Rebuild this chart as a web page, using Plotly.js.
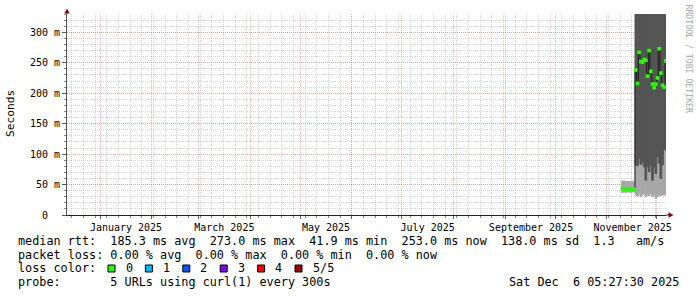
<!DOCTYPE html>
<html>
<head>
<meta charset="utf-8">
<script src="https://cdn.plot.ly/plotly-3.0.1.min.js"></script>
<style>
  html, body { margin: 0; padding: 0; background: #ffffff; }
  #chart { width: 697px; height: 297px; }
</style>
</head>
<body>
<div id="chart"></div>
<script>
// ---------------- data ----------------
const monthStarts = ['2025-01-01','2025-02-01','2025-03-01','2025-04-01','2025-05-01','2025-06-01',
                     '2025-07-01','2025-08-01','2025-09-01','2025-10-01','2025-11-01','2025-12-01'];
const monthLabels = ['January 2025','','March 2025','','May 2025','','July 2025','','September 2025','','November 2025',''];

const yTickVals = [0, 0.05, 0.10, 0.15, 0.20, 0.25, 0.30];
const yTickText = ['0\u00a0\u00a0', '50 m', '100 m', '150 m', '200 m', '250 m', '300 m'];

// one sample per day (bar centred at noon)
const days = ['2025-11-10','2025-11-11','2025-11-12','2025-11-13','2025-11-14','2025-11-15','2025-11-16','2025-11-17',
              '2025-11-18','2025-11-19','2025-11-20','2025-11-21','2025-11-22','2025-11-23','2025-11-24','2025-11-25',
              '2025-11-26','2025-11-27','2025-11-28','2025-11-29','2025-11-30','2025-12-01','2025-12-02','2025-12-03',
              '2025-12-04','2025-12-05','2025-12-06'];

// smoke: bottom of light band, light/dark boundary, top of dark band (seconds)
const smokeLo  = [0.037,0.038,0.037,0.038,0.038,0.037,0.038,0.038,
                  0.033,0.031,0.0355,0.030,0.033,0.0355,0.030,0.033,0.032,0.0355,0.030,0.033,0.027,0.030,0.033,0.032,0.033,0.033,0.033];
const smokeMid = [0.056,0.055,0.055,0.055,0.055,0.055,0.055,0.055,
                  0.082,0.081,0.093,0.083,0.087,0.079,0.057,0.079,0.071,0.082,0.057,0.079,0.068,0.096,0.085,0.060,0.082,0.107,0.107];
const smokeHi  = [null,null,null,null,null,null,null,null,
                  0.35,0.35,0.35,0.35,0.35,0.35,0.35,0.35,0.35,0.35,0.35,0.35,0.35,0.35,0.35,0.35,0.35,0.35,0.35];

// median rtt (seconds)
const median = [0.0435,0.043,0.043,0.0425,0.042,0.0419,0.042,0.0422,
                0.238,0.216,0.267,0.252,0.251,0.255,0.254,0.228,0.270,0.236,0.215,0.209,0.215,0.225,0.273,0.233,0.213,0.210,0.253];

const legendLines = [
  'median rtt:  185.3 ms avg  273.0 ms max  41.9 ms min  253.0 ms now  138.0 ms sd  1.3   am/s',
  'packet loss: 0.00 % avg  0.00 % max  0.00 % min  0.00 % now',
  'loss color:',
  'probe:       5 URLs using curl(1) every 300s'
];
const lossLabels = ['0','1','2','3','4','5/5'];
const lossColors = ['#26ff00','#00b8ff','#0059ff','#7e00ff','#ff0000','#a10000'];
const dateText = 'Sat Dec  6 05:27:30 2025';
const watermark = 'RRDTOOL / TOBI OETIKER';

// ---------------- layout helpers ----------------
const L = 67, R = 666, T = 14, B = 215;
const W = R - L, H = B - T;
const px = x => (x - L) / W;
const py = y => (B - y) / H;
const nb = s => s.replace(/ /g, '\u00a0');
const MONO = 'DejaVu Sans Mono';

const centers = days.map(d => d + ' 12:00');
const lightH = smokeMid.map((m, i) => m - smokeLo[i]);
const darkH  = smokeHi.map((h, i) => (h === null ? null : h - smokeMid[i]));

const traces = [
  { type: 'bar', x: centers, base: smokeLo, y: lightH, width: 86400000,
    marker: { color: '#a8a8a8', line: { width: 1, color: '#a8a8a8' } }, hoverinfo: 'skip' },
  { type: 'bar', x: centers, base: smokeMid, y: darkH, width: 86400000,
    marker: { color: '#555555', line: { width: 1, color: '#555555' } }, hoverinfo: 'skip' },
  { type: 'scatter', mode: 'lines+markers', x: centers, y: median,
    line: { shape: 'hvh', color: '#1e1e1e', width: 1 },
    marker: { symbol: 'square', size: 3.6, color: lossColors[0], line: { width: 0 } }, hoverinfo: 'skip' }
];

const gray = 'rgba(150,150,150,0.4)';
const red  = 'rgba(225,90,90,0.4)';
const axFont = { family: MONO, size: 10, color: '#000' };

const annotations = [];
legendLines.forEach((t, i) => {
  const yc = [241, 255, 268, 282][i];
  annotations.push({ xref: 'paper', yref: 'paper', x: px(16), y: py(yc), xanchor: 'left', yanchor: 'middle',
    text: nb(t), showarrow: false, font: { family: MONO, size: 11.8, color: '#000' } });
});
annotations.push({ xref: 'paper', yref: 'paper', x: px(681), y: py(282), xanchor: 'right', yanchor: 'middle',
  text: nb(dateText), showarrow: false, font: { family: MONO, size: 11.8, color: '#000' } });
annotations.push({ xref: 'paper', yref: 'paper', x: px(11), y: py(114), xanchor: 'center', yanchor: 'middle',
  text: 'Seconds', textangle: -90, showarrow: false, font: { family: MONO, size: 11.2, color: '#000' } });
annotations.push({ xref: 'paper', yref: 'paper', x: px(688.5), y: py(59), xanchor: 'center', yanchor: 'middle',
  text: nb(watermark), textangle: 90, showarrow: false, font: { family: MONO, size: 8.2, color: '#a8a8a8' } });

const shapes = [];
lossLabels.forEach((lab, i) => {
  const x0 = 108 + i * 37.4;
  shapes.push({ type: 'rect', xref: 'paper', yref: 'paper', x0: px(x0), x1: px(x0 + 7), y0: py(272), y1: py(265),
    fillcolor: lossColors[i], line: { color: '#000', width: 1 } });
  annotations.push({ xref: 'paper', yref: 'paper', x: px(x0 + 15.5), y: py(268), xanchor: 'left', yanchor: 'middle',
    text: lab, showarrow: false, font: { family: MONO, size: 11.8, color: '#000' } });
});
// axis arrows
const pth = pts => 'M' + pts.map(p => px(p[0]) + ',' + py(p[1])).join(' L') + ' Z';
shapes.push({ type: 'path', xref: 'paper', yref: 'paper', path: pth([[67, 8.5], [64.3, 13.5], [69.7, 13.5]]),
  fillcolor: '#8b0000', line: { width: 0 } });
shapes.push({ type: 'path', xref: 'paper', yref: 'paper', path: pth([[673.5, 215], [668.5, 212.3], [668.5, 217.7]]),
  fillcolor: '#8b0000', line: { width: 0 } });
shapes.push({ type: 'line', xref: 'paper', yref: 'paper', x0: px(666), x1: px(669), y0: 0, y1: 0,
  line: { color: '#222', width: 1 } });
shapes.push({ type: 'line', xref: 'paper', yref: 'paper', x0: 0, x1: 0, y0: 1, y1: py(13),
  line: { color: '#555', width: 1 } });

const layout = {
  width: 697, height: 297,
  margin: { l: L, r: 697 - R, t: T, b: 297 - B, pad: 0 },
  paper_bgcolor: '#ffffff', plot_bgcolor: '#ffffff',
  showlegend: false, hovermode: false,
  barmode: 'overlay', bargap: 0,
  xaxis: {
    type: 'date', range: ['2024-12-12 04:48', '2025-12-06 14:24'], fixedrange: true,
    tickmode: 'array', tickvals: monthStarts, ticktext: monthLabels, ticklabelshift: 26,
    ticks: 'outside', ticklen: 3, tickcolor: '#666', tickwidth: 1,
    showgrid: true, gridcolor: red, griddash: '1px,1px', gridwidth: 1,
    showline: true, linecolor: '#222', linewidth: 1, zeroline: false,
    tickfont: axFont, tickangle: 0,
    minor: { tickmode: 'linear', tick0: '2024-12-29', dtick: 604800000, showgrid: true,
             gridcolor: gray, griddash: '1px,1px', gridwidth: 1, ticks: 'outside', ticklen: 2, tickcolor: '#888' }
  },
  yaxis: {
    range: [0, 0.33], fixedrange: true,
    tickmode: 'array', tickvals: yTickVals, ticktext: yTickText,
    ticks: 'outside', ticklen: 4, tickcolor: '#555', tickwidth: 1,
    showgrid: true, gridcolor: red, griddash: '1px,1px', gridwidth: 1,
    showline: true, linecolor: '#555', linewidth: 1, zeroline: false,
    tickfont: axFont,
    minor: { tickmode: 'linear', tick0: 0, dtick: 0.01, showgrid: true,
             gridcolor: gray, griddash: '1px,1px', gridwidth: 1, ticks: 'outside', ticklen: 2, tickcolor: '#888' }
  },
  annotations: annotations,
  shapes: shapes
};

Plotly.newPlot('chart', traces, layout, { displayModeBar: false, staticPlot: true });
</script>
</body>
</html>
